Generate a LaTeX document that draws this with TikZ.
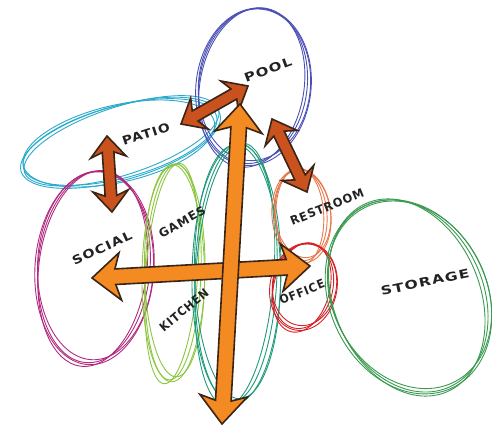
\documentclass[tikz,border=0pt]{standalone}
\usepackage{fontspec}
\newfontfamily\hand{DejaVu Sans}[LetterSpace=8]
\usetikzlibrary{shapes.geometric,shapes.arrows,calc}
\definecolor{cBlue}{HTML}{4B50B5}
\definecolor{cCyan}{HTML}{2AAACB}
\definecolor{cMag}{HTML}{B12A7F}
\definecolor{cLime}{HTML}{8CC63F}
\definecolor{cTeal}{HTML}{1E9A7A}
\definecolor{cOrange}{HTML}{E8774C}
\definecolor{cRed}{HTML}{D42127}
\definecolor{cGreen}{HTML}{3A9A50}
\definecolor{arrowmain}{HTML}{F38A22}
\definecolor{arrowdark}{HTML}{C9521E}
\definecolor{arrowline}{HTML}{3A2416}
\definecolor{labelc}{HTML}{222222}
\tikzset{
  bubble/.style={ellipse, inner sep=0pt, line width=0.9pt},
  bubline/.style={line width=0.9pt},
  bigarrow/.style={double arrow, draw=arrowline, fill=arrowmain, line width=1.6pt,
    inner xsep=0pt, inner ysep=7pt, double arrow head extend=16pt,
    double arrow tip angle=80, double arrow head indent=5pt},
  smallarrow/.style={bigarrow, fill=arrowdark, inner ysep=5pt, double arrow head extend=12pt},
  lab/.style={font=\hand\bfseries\fontsize{12}{12}\selectfont, text=labelc, inner sep=1pt}
}
% name, color, cx, cy, rx, ry, rot
\newcommand\bub[7]{%
  \node[bubble, draw=#2, minimum width={2*#5*1pt}, minimum height={2*#6*1pt}, rotate=#7] (#1) at (#3,#4) {};
  \draw[#2, bubline, rotate around={#7+3:(#3+1.5,#4-1.2)}] (#3+1.5,#4-1.2) ellipse [x radius=#5+2, y radius=#6-2];
  \draw[#2, bubline, rotate around={#7-2:(#3-1.2,#4+1.5)}] (#3-1.2,#4+1.5) ellipse [x radius=#5-2, y radius=#6+2.5];
  \draw[#2, bubline, rotate around={#7+1:(#3+0.5,#4+0.8)}] (#3+0.5,#4+0.8) ellipse [x radius=#5+3.5, y radius=#6+1];
}
% style, from, to, name
\newcommand\conn[4]{\path let \p1=(#2), \p2=(#3), \n1={veclen(\x2-\x1,\y2-\y1)} in
  (#2) -- (#3) node[#1, midway, sloped, minimum height=\n1] (#4) {};}
\begin{document}
\begin{tikzpicture}[x=1pt,y=-1pt]
\useasboundingbox (0,0) rectangle (492,427);
% bubbles
\bub{patio}{cCyan}{120}{142}{100}{36}{15}
\bub{pool}{cBlue}{253}{86}{54}{78}{-8}
\bub{social}{cMag}{94}{267}{56}{96}{-5}
\bub{games}{cLime}{173}{272}{28}{108}{-2}
\bub{core}{cTeal}{236}{273}{41}{129}{-2}
\bub{restroom}{cOrange}{301}{215}{26}{46}{4}
\bub{office}{cRed}{303}{286}{30}{43}{-12}
\bub{storage}{cGreen}{408}{296}{75}{100}{25}
% arrow end points
\coordinate (vT) at (240,104);
\coordinate (vB) at (222,424);
\coordinate (hL) at (92,278);
\coordinate (hR) at (310,266);
\coordinate (ppA) at (181,124);
\coordinate (ppB) at (248,86);
\coordinate (psA) at (107,136);
\coordinate (psB) at (112,212);
\coordinate (prA) at (272,119);
\coordinate (prB) at (307,192);
% connectors
\conn{smallarrow}{ppA}{ppB}{aPP}
\conn{smallarrow}{psA}{psB}{aPS}
\conn{smallarrow}{prA}{prB}{aPR}
\conn{bigarrow}{hL}{hR}{aH}
\conn{bigarrow}{vT}{vB}{aV}
% labels
\node[lab, rotate=20] (tPool) at (268,70) {\scalebox{1.25}[1]{POOL}};
\node[lab, rotate=18] (tPatio) at (146,134) {\scalebox{1.15}[1]{PATIO}};
\node[lab, rotate=25] (tSocial) at (102,248) {\scalebox{1.2}[1]{SOCIAL}};
\node[lab, rotate=30] (tGames) at (182,222) {GAMES};
\node[lab, rotate=40] (tKitchen) at (184,310) {\scalebox{0.92}[1]{KITCHEN}};
\node[lab, rotate=22] (tRest) at (327,207) {\scalebox{0.95}[1]{RESTROOM}};
\node[lab, rotate=22] (tOffice) at (302,292) {\scalebox{0.9}[1]{OFFICE}};
\node[lab, rotate=12] (tStorage) at (425,282) {\scalebox{1.3}[1]{STORAGE}};
\end{tikzpicture}
\end{document}
